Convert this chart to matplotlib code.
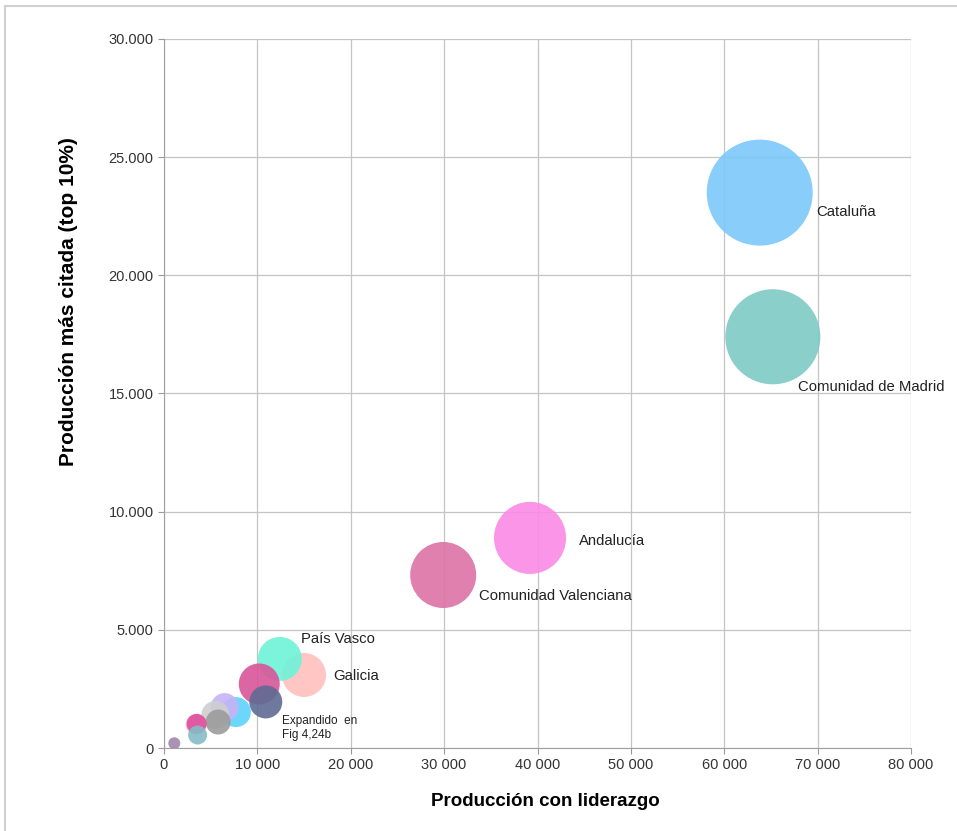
import numpy as np
import matplotlib.pyplot as plt
from matplotlib.patches import Rectangle
from matplotlib.ticker import FuncFormatter

plt.rcParams['font.family'] = ['Liberation Sans', 'DejaVu Sans']

# regiones (orden de dibujo: grandes primero, pequeñas encima)
regiones = ["Cataluña", "Comunidad de Madrid", "Andalucía", "Comunidad Valenciana",
            "Galicia", "País Vasco", "R7", "R8", "R9", "R10", "R11", "R12",
            "R13", "R14", "R15", "R16"]
liderazgo = [63800, 65200, 39200, 29900, 15000, 12400, 10200, 10900,
             7700, 6500, 5500, 5800, 3400, 3500, 3600, 1100]
top10 = [23500, 17400, 8890, 7320, 3090, 3770, 2710, 1950,
         1520, 1730, 1400, 1100, 1000, 1020, 550, 200]
# tamaño de burbuja (producción total, unidades relativas)
total = [2810, 2260, 1300, 1090, 484, 484, 420, 272,
         225, 196, 196, 156, 100, 100, 90, 36]
colores = ["#7cc8fb", "#7ecac6", "#fb8ae6", "#dc72a6", "#ffc0be", "#6ef3d8",
           "#d9559a", "#5f6b94", "#5cd3fb", "#c6b2f8", "#cfcfcf", "#9c9c9c",
           "#f2b4e0", "#e0509a", "#86bcc6", "#a086ac"]

etiquetas = {
    "Cataluña": (41, -14),
    "Comunidad de Madrid": (18, -36),
    "Andalucía": (35, -2),
    "Comunidad Valenciana": (26, -15),
    "País Vasco": (15, 14),
    "Galicia": (21, -1),
}

fig = plt.figure(figsize=(9.57, 8.31), dpi=100)
fig.patches.append(Rectangle((5 / 957, -0.01), 1.0, 1 - 6 / 831 + 0.01,
                             transform=fig.transFigure, fill=False,
                             edgecolor="#d0d0d0", linewidth=1.5))
ax = fig.add_axes([164 / 957, 83 / 831, 747 / 957, 709 / 831])

tot = np.array(total, dtype=float)
radio_px = 53 * np.sqrt(tot / tot.max())
s = (2 * radio_px * 0.72) ** 2
ax.scatter(liderazgo, top10, s=s, c=colores, alpha=0.9, linewidths=0, zorder=3)

for nombre, (dx, dy) in etiquetas.items():
    i = regiones.index(nombre)
    ax.annotate(nombre, (liderazgo[i], top10[i]), xytext=(dx, dy),
                textcoords="offset points", fontsize=10.7, color="#222222",
                va="center", ha="left", zorder=4)

i = regiones.index("R8")
ax.annotate("Expandido  en\nFig 4,24b", (liderazgo[i], top10[i]), xytext=(12, -19),
            textcoords="offset points", fontsize=8.5, color="#222222",
            va="center", ha="left", linespacing=1.25, zorder=4)

ax.set_xlim(0, 80000)
ax.set_ylim(0, 30000)
ax.set_xticks(np.arange(0, 80001, 10000))
ax.set_yticks(np.arange(0, 30001, 5000))
ax.xaxis.set_major_formatter(FuncFormatter(lambda v, p: f"{int(v):,}".replace(",", " ")))
ax.yaxis.set_major_formatter(FuncFormatter(lambda v, p: f"{int(v):,}".replace(",", ".")))
ax.tick_params(labelsize=10.5, colors="#999999", labelcolor="#333333", length=4)
ax.grid(True, color="#c4c4c4", linewidth=0.9, zorder=0)
ax.set_axisbelow(True)
for sp in ["top", "right"]:
    ax.spines[sp].set_visible(False)
for sp in ["left", "bottom"]:
    ax.spines[sp].set_color("#a0a0a0")

ax.set_xlabel("Producción con liderazgo", fontsize=13.5, fontweight="bold")
ax.xaxis.set_label_coords(0.511, -0.064)
ax.set_ylabel("Producción más citada (top 10%)", fontsize=15, fontweight="bold")
ax.yaxis.set_label_coords(-0.115, 0.629)

fig.savefig("out.png", dpi=100)
